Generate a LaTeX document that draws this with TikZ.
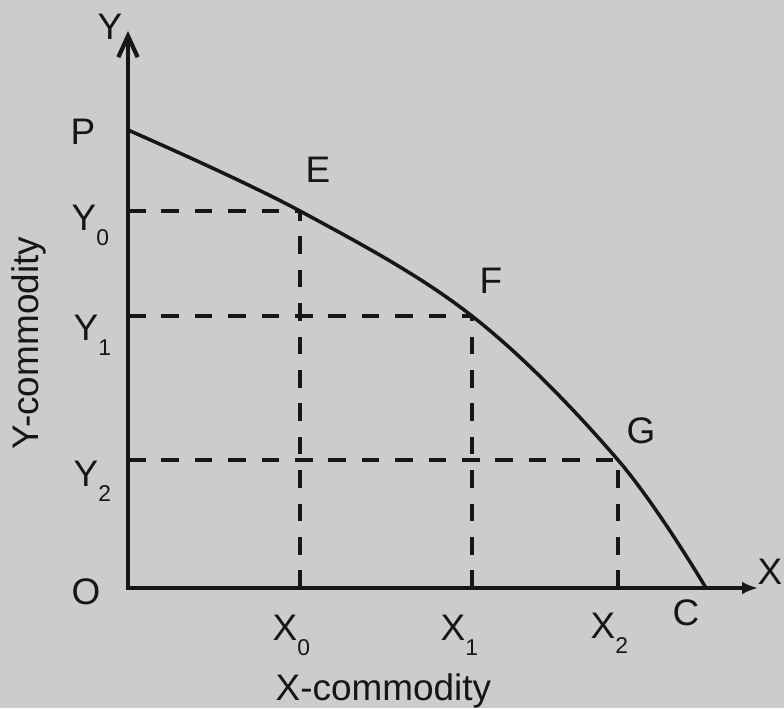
\documentclass[tikz,border=0pt]{standalone}
\usepackage{fontspec}
\setmainfont{Liberation Sans}
\usetikzlibrary{arrows.meta}
\definecolor{paper}{RGB}{204,205,203}
\definecolor{ink}{RGB}{22,22,22}
\newcommand{\lsub}[1]{\raisebox{-0.8ex}{\fontsize{6.5}{7}\selectfont #1}}
\begin{document}
\begin{tikzpicture}[x=0.01cm,y=-0.01cm,
  lbl/.style={text=ink,font=\fontsize{10.5}{12}\selectfont,inner sep=0pt},
  axis/.style={draw=ink,line width=1.2pt},
  ppc/.style={draw=ink,line width=1pt},
  guide/.style={draw=ink,line width=1.1pt,dash pattern=on 5pt off 4.5pt}]
\fill[paper] (0,0) rectangle (784,708);
\useasboundingbox (0,0) rectangle (784,708);
% axes
\coordinate (O) at (128,588);
\coordinate (Ytop) at (128,31);
\coordinate (Xend) at (758,588);
\draw[axis,{Straight Barb[length=6pt,width=5.5pt]}-{Latex[length=4.5pt,width=3.6pt]}] (Ytop) -- (O) -- (Xend);
% curve points
\coordinate (P) at (128,130);
\coordinate (E) at (300,211);
\coordinate (F) at (472,316);
\coordinate (G) at (618,460);
\coordinate (C) at (706,588);
\draw[ppc] plot[smooth,tension=0.6] coordinates {(P) (E) (F) (G) (C)};
% axis feet
\coordinate (Y0) at (128,211);
\coordinate (Y1) at (128,316);
\coordinate (Y2) at (128,460);
\coordinate (X0) at (300,588);
\coordinate (X1) at (472,588);
\coordinate (X2) at (618,588);
\draw[guide] (Y0) -- (E);
\draw[guide] (X0) -- (E);
\draw[guide] (Y1) -- (F);
\draw[guide] (X1) -- (F);
\draw[guide] (Y2) -- (G);
\draw[guide] (X2) -- (G);
% labels
\node[lbl] (lY) at (110,27) {Y};
\node[lbl] (lP) at (83,132) {P};
\node[lbl,anchor=base west] (lY0) at (71,230) {Y\lsub{0}};
\node[lbl,anchor=base west] (lY1) at (73,340) {Y\lsub{1}};
\node[lbl,anchor=base west] (lY2) at (73,486) {Y\lsub{2}};
\node[lbl] (lO) at (86,592) {O};
\node[lbl,anchor=base west] (lX0) at (272,640) {X\lsub{0}};
\node[lbl,anchor=base west] (lX1) at (440,640) {X\lsub{1}};
\node[lbl,anchor=base west] (lX2) at (590,638) {X\lsub{2}};
\node[lbl] (lC) at (686,613) {C};
\node[lbl,anchor=east] (lX) at (783,572) {X};
\node[lbl] (lE) at (318,170) {E};
\node[lbl] (lF) at (491,281) {F};
\node[lbl] (lG) at (641,431) {G};
\node[lbl,anchor=base west] (xc) at (275,700) {X-commodity};
\node[lbl,rotate=90] (yc) at (29,343) {Y-commodity};
\end{tikzpicture}
\end{document}
